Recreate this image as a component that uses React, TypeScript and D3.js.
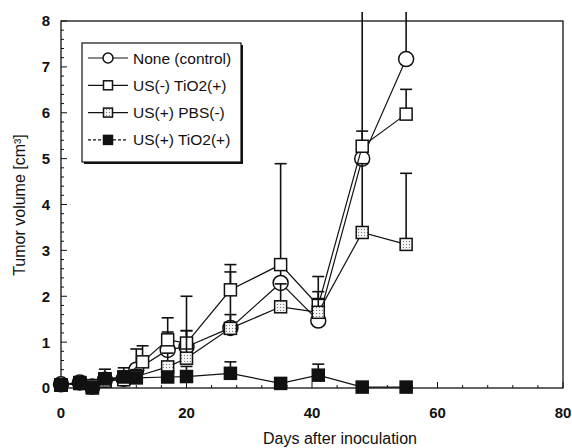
import { useEffect, useRef } from "react";
import * as d3 from "d3";

// ── Data ───────────────────────────────────────────────────────────────────────
const daysNone = [0, 3, 5, 7, 10, 12, 17, 20, 27, 35, 41, 48, 55];
const noneMean = [0.08, 0.12, 0.03, 0.18, 0.2, 0.4, 0.83, 0.9, 1.31, 2.29, 1.47, 5.0, 7.17];
const noneErr = [0.05, 0.05, 0.05, 0.15, 0.15, 0.45, 0.39, 0.35, 1.22, 0.5, 0.96, 3.3, 1.1];

const daysUsMinus = [0, 3, 5, 7, 10, 13, 17, 20, 27, 35, 41, 48, 55];
const usMinusMean = [0.07, 0.12, 0.05, 0.2, 0.22, 0.57, 1.05, 0.98, 2.14, 2.69, 1.8, 5.27, 5.97];
const usMinusErr = [0.05, 0.05, 0.05, 0.1, 0.15, 0.35, 0.48, 1.02, 0.55, 2.2, 0.3, 0.33, 0.54];

const daysPbs = [0, 3, 5, 7, 10, 12, 17, 20, 27, 35, 41, 48, 55];
const pbsMean = [0.06, 0.1, 0.02, 0.15, 0.18, 0.25, 0.46, 0.65, 1.3, 1.77, 1.65, 3.39, 3.13];
const pbsErr = [0.04, 0.04, 0.04, 0.1, 0.1, 0.15, 0.3, 0.6, 0.3, 0.5, 0.3, 1.5, 1.55];

const daysTio2 = [0, 3, 5, 7, 10, 12, 17, 20, 27, 35, 41, 48, 55];
const tio2Mean = [0.07, 0.1, 0.0, 0.2, 0.24, 0.22, 0.24, 0.25, 0.32, 0.1, 0.28, 0.02, 0.02];
const tio2Err = [0.04, 0.05, 0.05, 0.21, 0.2, 0.1, 0.1, 0.22, 0.25, 0.05, 0.24, 0.02, 0.02];

const xTicks = [0, 20, 40, 60, 80];
const yTicks = [0, 1, 2, 3, 4, 5, 6, 7, 8];
const legendLabels = ["None (control)", "US(-) TiO2(+)", "US(+) PBS(-)", "US(+) TiO2(+)"];

type Marker = "circle" | "square" | "dotted" | "filled";

interface Series {
  label: string;
  days: number[];
  mean: number[];
  err: number[];
  marker: Marker;
}

const series: Series[] = [
  { label: legendLabels[0], days: daysNone, mean: noneMean, err: noneErr, marker: "circle" },
  { label: legendLabels[1], days: daysUsMinus, mean: usMinusMean, err: usMinusErr, marker: "square" },
  { label: legendLabels[2], days: daysPbs, mean: pbsMean, err: pbsErr, marker: "dotted" },
  { label: legendLabels[3], days: daysTio2, mean: tio2Mean, err: tio2Err, marker: "filled" },
];

const FONT = "'Liberation Sans', Arial, sans-serif";

export default function App() {
  const svgRef = useRef<SVGSVGElement>(null);

  useEffect(() => {
    if (!svgRef.current) return;
    const width = 572;
    const height = 448;

    const x = d3.scaleLinear().domain([0, 80]).range([61, 563]);
    const y = d3.scaleLinear().domain([0, 8]).range([388, 21]);

    const svg = d3.select(svgRef.current);
    svg.attr("viewBox", `0 0 ${width} ${height}`);
    svg.selectAll("*").remove();

    // ── Defs: dotted fill + clip ───────────────────────────────────────────────
    const defs = svg.append("defs");
    const pat = defs
      .append("pattern")
      .attr("id", "dots")
      .attr("width", 3)
      .attr("height", 3)
      .attr("patternUnits", "userSpaceOnUse");
    pat.append("rect").attr("width", 3).attr("height", 3).attr("fill", "#f4f4f4");
    pat.append("rect").attr("x", 1).attr("y", 1).attr("width", 1).attr("height", 1).attr("fill", "#777");

    defs
      .append("clipPath")
      .attr("id", "plotclip")
      .append("rect")
      .attr("x", 40)
      .attr("y", 12)
      .attr("width", 540)
      .attr("height", 400);

    // ── Frame ──────────────────────────────────────────────────────────────────
    svg
      .append("rect")
      .attr("x", x(0))
      .attr("y", y(8))
      .attr("width", x(80) - x(0))
      .attr("height", y(0) - y(8))
      .attr("fill", "none")
      .attr("stroke", "#111")
      .attr("stroke-width", 1.3);

    // ── Ticks (inward) ────────────────────────────────────────────────────────
    const tickG = svg.append("g").attr("stroke", "#111").attr("stroke-width", 1);
    d3.range(0, 8.001, 0.2).forEach((v) => {
      const major = Math.abs(v - Math.round(v)) < 1e-6;
      tickG
        .append("line")
        .attr("x1", x(0))
        .attr("x2", x(0) + (major ? 6 : 3))
        .attr("y1", y(v))
        .attr("y2", y(v));
    });
    d3.range(0, 80.001, 4).forEach((d) => {
      const major = d % 20 === 0;
      tickG
        .append("line")
        .attr("x1", x(d))
        .attr("x2", x(d))
        .attr("y1", y(0))
        .attr("y2", y(0) - (major ? 6 : 3));
    });

    // ── Tick labels ───────────────────────────────────────────────────────────
    svg
      .append("g")
      .selectAll("text")
      .data(yTicks)
      .enter()
      .append("text")
      .attr("x", 50)
      .attr("y", (d) => y(d))
      .attr("dy", "0.36em")
      .attr("text-anchor", "end")
      .attr("font-family", FONT)
      .attr("font-size", 15)
      .attr("font-weight", "bold")
      .attr("fill", "#111")
      .text((d) => d);

    svg
      .append("g")
      .selectAll("text")
      .data(xTicks)
      .enter()
      .append("text")
      .attr("x", (d) => x(d))
      .attr("y", 418)
      .attr("text-anchor", "middle")
      .attr("font-family", FONT)
      .attr("font-size", 15)
      .attr("font-weight", "bold")
      .attr("fill", "#111")
      .text((d) => d);

    // ── Axis titles ───────────────────────────────────────────────────────────
    svg
      .append("text")
      .attr("x", 340)
      .attr("y", 444)
      .attr("text-anchor", "middle")
      .attr("font-family", FONT)
      .attr("font-size", 16)
      .attr("fill", "#111")
      .text("Days after inoculation");

    svg
      .append("text")
      .attr("transform", "translate(25,205) rotate(-90)")
      .attr("text-anchor", "middle")
      .attr("font-family", FONT)
      .attr("font-size", 16)
      .attr("fill", "#111")
      .text("Tumor volume [cm³]");

    // ── Marker helper ─────────────────────────────────────────────────────────
    const drawMarker = (
      g: d3.Selection<SVGGElement, unknown, null, undefined>,
      m: Marker,
      cx: number,
      cy: number,
      s: number
    ) => {
      if (m === "circle") {
        g.append("circle")
          .attr("cx", cx)
          .attr("cy", cy)
          .attr("r", s / 2)
          .attr("fill", "#fff")
          .attr("stroke", "#111")
          .attr("stroke-width", 1.5);
      } else {
        const fill = m === "square" ? "#fff" : m === "dotted" ? "url(#dots)" : "#111";
        g.append("rect")
          .attr("x", cx - s / 2)
          .attr("y", cy - s / 2)
          .attr("width", s)
          .attr("height", s)
          .attr("fill", fill)
          .attr("stroke", "#111")
          .attr("stroke-width", 1.5);
      }
    };

    // ── Series: lines, error bars, markers ────────────────────────────────────
    const line = d3
      .line<[number, number]>()
      .x((d) => x(d[0]))
      .y((d) => y(d[1]));

    series.forEach((s) => {
      const g = svg.append("g");
      const pts = s.days.map((d, i) => [d, s.mean[i]] as [number, number]);

      g.append("path")
        .attr("d", line(pts))
        .attr("fill", "none")
        .attr("stroke", "#111")
        .attr("stroke-width", 1.2);

      const eg = g.append("g").attr("clip-path", "url(#plotclip)");
      s.days.forEach((d, i) => {
        const top = s.mean[i] + s.err[i];
        eg.append("line")
          .attr("x1", x(d))
          .attr("x2", x(d))
          .attr("y1", y(s.mean[i]))
          .attr("y2", y(top))
          .attr("stroke", "#111")
          .attr("stroke-width", 1.6);
        if (top <= 8) {
          eg.append("line")
            .attr("x1", x(d) - 6)
            .attr("x2", x(d) + 6)
            .attr("y1", y(top))
            .attr("y2", y(top))
            .attr("stroke", "#111")
            .attr("stroke-width", 1.6);
        }
      });

      s.days.forEach((d, i) => {
        drawMarker(g, s.marker, x(d), y(s.mean[i]), s.marker === "circle" ? 15 : 12);
      });
    });

    // ── Legend ────────────────────────────────────────────────────────────────
    const lg = svg.append("g");
    lg.append("rect")
      .attr("x", 84)
      .attr("y", 45)
      .attr("width", 159)
      .attr("height", 119)
      .attr("fill", "#111");
    lg.append("rect")
      .attr("x", 82)
      .attr("y", 43)
      .attr("width", 159)
      .attr("height", 119)
      .attr("fill", "#fff")
      .attr("stroke", "#111")
      .attr("stroke-width", 1.2);

    series.forEach((s, i) => {
      const ry = 58 + i * 27.3;
      lg.append("line")
        .attr("x1", 88)
        .attr("x2", 128)
        .attr("y1", ry)
        .attr("y2", ry)
        .attr("stroke", "#111")
        .attr("stroke-width", 1.2)
        .attr("stroke-dasharray", s.marker === "filled" ? "3 2" : null);
      drawMarker(lg, s.marker, 108, ry, s.marker === "circle" ? 10 : 9);
      lg.append("text")
        .attr("x", 133)
        .attr("y", ry)
        .attr("dy", "0.36em")
        .attr("font-family", FONT)
        .attr("font-size", 15.5)
        .attr("fill", "#111")
        .text(s.label);
    });
  }, []);

  return (
    <div style={{ position: "fixed", left: 0, top: 0, width: 572, height: 448, background: "#fff" }}>
      <svg ref={svgRef} width={572} height={448} style={{ display: "block" }} />
    </div>
  );
}
